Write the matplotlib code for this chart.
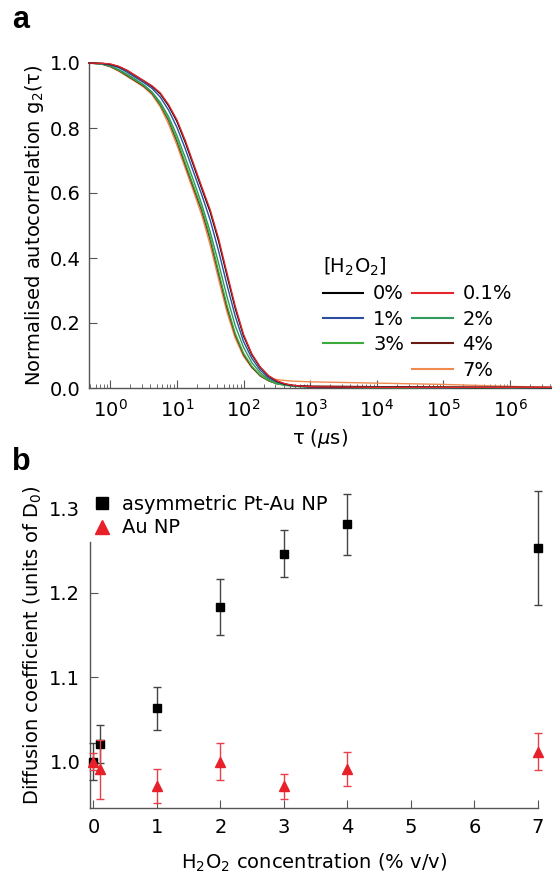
import numpy as np
import matplotlib
matplotlib.use("Agg")
import matplotlib.pyplot as plt
from matplotlib.lines import Line2D
from matplotlib.ticker import LogLocator, NullFormatter, FixedLocator

plt.rcParams['font.family'] = ['DejaVu Sans']
plt.rcParams['mathtext.fontset'] = 'dejavusans'

# ---------------- panel a data ----------------
log_tau = [-0.32, -0.125, 0.0, 0.125, 0.25, 0.375, 0.5, 0.625, 0.75, 0.875, 1.0, 1.125,
           1.25, 1.375, 1.5, 1.625, 1.75, 1.875, 2.0, 2.125, 2.25, 2.375, 2.5, 2.625,
           2.75, 3.0, 3.5, 4.0, 4.5, 5.0, 5.5, 6.0, 6.63]
g2_0 = [1.000, 0.999, 0.996, 0.989, 0.977, 0.961, 0.945, 0.928, 0.905, 0.868, 0.820, 0.756,
        0.684, 0.612, 0.541, 0.452, 0.347, 0.245, 0.160, 0.102, 0.063, 0.037, 0.021, 0.012,
        0.008, 0.004, 0.003, 0.002, 0.002, 0.002, 0.001, 0.002, 0.001]
g2_01 = [1.000, 0.999, 0.997, 0.990, 0.978, 0.962, 0.946, 0.930, 0.908, 0.872, 0.825, 0.762,
         0.690, 0.618, 0.548, 0.460, 0.355, 0.252, 0.165, 0.105, 0.065, 0.038, 0.022, 0.013,
         0.008, 0.004, 0.003, 0.002, 0.002, 0.002, 0.002, 0.002, 0.002]
g2_1 = [1.000, 0.998, 0.994, 0.986, 0.972, 0.956, 0.940, 0.922, 0.895, 0.855, 0.802, 0.736,
        0.664, 0.593, 0.516, 0.422, 0.318, 0.221, 0.143, 0.091, 0.055, 0.032, 0.019, 0.011,
        0.007, 0.003, 0.002, 0.002, 0.002, 0.001, 0.002, 0.001, 0.001]
g2_2 = [1.000, 0.997, 0.991, 0.980, 0.966, 0.950, 0.933, 0.911, 0.879, 0.835, 0.777, 0.709,
        0.638, 0.564, 0.480, 0.384, 0.282, 0.192, 0.125, 0.078, 0.047, 0.027, 0.016, 0.010,
        0.006, 0.003, 0.002, 0.002, 0.001, 0.002, 0.001, 0.001, 0.001]
g2_3 = [1.000, 0.997, 0.990, 0.978, 0.963, 0.947, 0.931, 0.909, 0.873, 0.827, 0.765, 0.693,
        0.621, 0.551, 0.464, 0.359, 0.256, 0.168, 0.107, 0.067, 0.039, 0.023, 0.013, 0.008,
        0.005, 0.003, 0.002, 0.001, 0.001, 0.001, 0.001, 0.001, 0.001]
g2_4 = [1.000, 0.997, 0.989, 0.977, 0.961, 0.945, 0.929, 0.907, 0.871, 0.823, 0.759, 0.687,
        0.615, 0.544, 0.456, 0.351, 0.248, 0.163, 0.103, 0.064, 0.037, 0.022, 0.013, 0.009,
        0.007, 0.006, 0.005, 0.004, 0.004, 0.003, 0.003, 0.002, 0.002]
g2_7 = [1.000, 0.996, 0.988, 0.975, 0.959, 0.943, 0.926, 0.903, 0.865, 0.812, 0.747, 0.676,
        0.604, 0.530, 0.439, 0.334, 0.234, 0.153, 0.097, 0.062, 0.040, 0.030, 0.026, 0.023,
        0.021, 0.019, 0.017, 0.015, 0.013, 0.011, 0.008, 0.005, 0.002]
series_labels = ['0%', '0.1%', '1%', '2%', '3%', '4%', '7%']
series_values = [g2_0, g2_01, g2_1, g2_2, g2_3, g2_4, g2_7]
series_colors = ['#000000', '#e3262c', '#2b4ea0', '#2f9a5c', '#3bab3b', '#6a1a14', '#f08a4e']
draw_order = [6, 5, 4, 3, 2, 0, 1]

# ---------------- panel b data ----------------
conc = [0, 0.1, 1, 2, 3, 4, 7]
D_ptau = [1.000, 1.021, 1.063, 1.183, 1.246, 1.281, 1.253]
D_ptau_err = [0.022, 0.022, 0.025, 0.033, 0.028, 0.036, 0.067]
D_au = [1.000, 0.991, 0.971, 1.000, 0.971, 0.991, 1.012]
D_au_err = [0.010, 0.035, 0.020, 0.022, 0.015, 0.020, 0.022]

W, H = 552, 873
fig = plt.figure(figsize=(W / 100, H / 100), dpi=100)

spine_col = '#555555'

# ---------------- panel a ----------------
axa = fig.add_axes([89 / W, 1 - 388 / H, (552 - 89) / W, (388 - 63) / H])
tau = 10 ** np.array(log_tau)
for i in draw_order:
    axa.plot(tau, series_values[i], color=series_colors[i], lw=1.0, clip_on=False, zorder=3)
axa.set_xscale('log')
axa.set_xlim(10 ** -0.32, 10 ** 6.63)
axa.set_ylim(0, 1.0)
axa.set_yticks([0.0, 0.2, 0.4, 0.6, 0.8, 1.0])
axa.set_yticklabels(['0.0', '0.2', '0.4', '0.6', '0.8', '1.0'])
axa.xaxis.set_major_locator(FixedLocator([1, 10, 100, 1e3, 1e4, 1e5, 1e6]))
axa.set_xticklabels([r'$10^{%d}$' % k for k in range(7)])
axa.xaxis.set_minor_locator(LogLocator(base=10, subs=np.arange(2, 10), numticks=20))
axa.xaxis.set_minor_formatter(NullFormatter())
for s in ['top', 'right']:
    axa.spines[s].set_visible(False)
for s in ['left', 'bottom']:
    axa.spines[s].set_color(spine_col)
    axa.spines[s].set_linewidth(1.0)
axa.tick_params(axis='both', which='major', direction='in', length=6, width=0.8,
                color=spine_col, labelsize=14, pad=6)
axa.tick_params(axis='x', which='minor', direction='in', length=3, width=0.6, color=spine_col)
axa.tick_params(axis='x', which='major', pad=8)
axa.set_ylabel(r'Normalised autocorrelation g$_2$(τ)', fontsize=14, labelpad=3)
axa.set_xlabel(r'τ ($\mu$s)', fontsize=14, labelpad=4)

# legend with column layout: col1 = 0%,1%,3%,(blank); col2 = 0.1%,2%,4%,7%
order_leg = [0, 2, 4, None, 1, 3, 5, 6]
handles, labels = [], []
for k in order_leg:
    if k is None:
        handles.append(Line2D([], [], color='none'))
        labels.append('')
    else:
        handles.append(Line2D([], [], color=series_colors[k], lw=1.5))
        labels.append(series_labels[k])
leg = fig.legend(handles, labels, ncol=2, loc='upper left',
                 bbox_to_anchor=(309 / W, 1 - 242 / H), frameon=False, fontsize=14,
                 title=r'[H$_2$O$_2$]', title_fontsize=14, alignment='left',
                 handlelength=2.1, handletextpad=0.5, columnspacing=0.4,
                 labelspacing=0.33, borderpad=0.2)

# ---------------- panel b ----------------
axb = fig.add_axes([90 / W, 1 - 808.2 / H, (538 - 90) / W, (808.2 - 482.8) / H])
eb1 = axb.errorbar(conc, D_ptau, yerr=D_ptau_err, fmt='s', color='black', ms=5.5,
                   ecolor='#444444', elinewidth=1.0, capsize=3, capthick=1.0,
                   clip_on=False, zorder=3, label='asymmetric Pt-Au NP')
eb2 = axb.errorbar(conc, D_au, yerr=D_au_err, fmt='^', color='#e8202a', ms=6.5,
                   ecolor='#e8404a', elinewidth=1.0, capsize=3, capthick=1.0,
                   clip_on=False, zorder=4, label='Au NP')
for art in list(eb1.lines[1]) + list(eb1.lines[2]) + list(eb2.lines[1]) + list(eb2.lines[2]):
    art.set_clip_on(False)
axb.set_xlim(-0.055, 7.0)
axb.set_ylim(0.945, 1.33)
axb.set_xticks([0, 1, 2, 3, 4, 5, 6, 7])
axb.set_yticks([1.0, 1.1, 1.2, 1.3])
axb.set_yticklabels(['1.0', '1.1', '1.2', '1.3'])
for s in ['top', 'right']:
    axb.spines[s].set_visible(False)
for s in ['left', 'bottom']:
    axb.spines[s].set_color(spine_col)
    axb.spines[s].set_linewidth(1.0)
axb.spines['left'].set_bounds(0.945, 1.26)
axb.tick_params(axis='both', which='major', direction='in', length=6, width=0.8,
                color=spine_col, labelsize=14, pad=7)
axb.yaxis.get_major_ticks()[-1].tick1line.set_visible(False)
axb.set_xlabel(r'H$_2$O$_2$ concentration (% v/v)', fontsize=14, labelpad=11)
axb.set_ylabel(r'Diffusion coefficient (units of D$_0$)', fontsize=14, labelpad=4)

hb = [Line2D([], [], marker='s', color='black', ls='none', ms=9),
      Line2D([], [], marker='^', color='#e8202a', ls='none', ms=10)]
fig.legend(hb, ['asymmetric Pt-Au NP', 'Au NP'], loc='upper left',
           bbox_to_anchor=(79 / W, 1 - 481 / H), frameon=False, fontsize=14,
           handlelength=1.0, handletextpad=0.5, labelspacing=0.25, borderpad=0.2)

fig.text(12 / W, 1 - 20 / H, 'a', fontsize=22, fontweight='bold', va='center', ha='left',
         family='Liberation Sans')
fig.text(12 / W, 1 - 462 / H, 'b', fontsize=22, fontweight='bold', va='center', ha='left',
         family='Liberation Sans')

fig.savefig('out.png', dpi=100)
